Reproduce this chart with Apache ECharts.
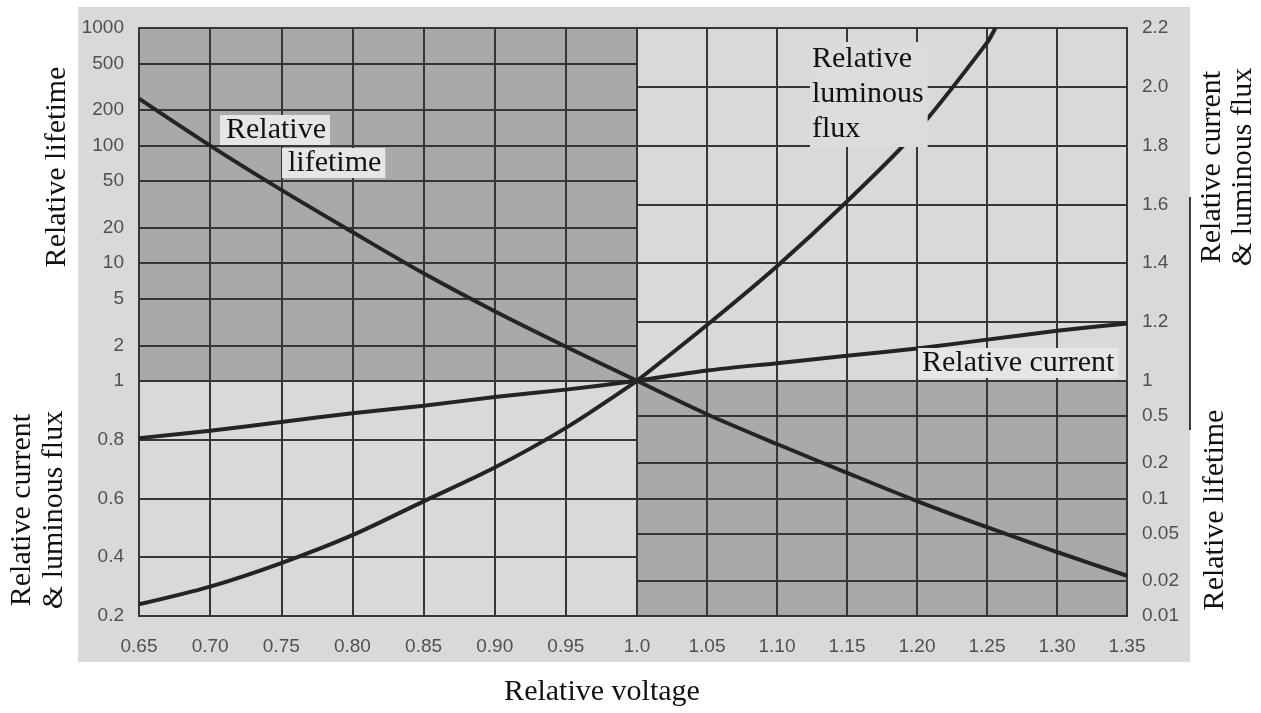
<!DOCTYPE html>
<html>
<head>
<meta charset="utf-8">
<script src="https://cdn.jsdelivr.net/npm/echarts@6/dist/echarts.min.js"></script>
<style>
  html, body { margin: 0; padding: 0; background: #fff; }
  #main { width: 1261px; height: 713px; }
</style>
</head>
<body>
<div id="main"></div>
<script>
// values
const voltage = [0.65, 0.70, 0.75, 0.80, 0.85, 0.90, 0.95, 1.00, 1.05, 1.10, 1.15, 1.20, 1.25, 1.30, 1.35];
const lifetime = [251, 100, 42, 18.4, 8.2, 3.9, 1.95, 1, 0.52, 0.29, 0.165, 0.095, 0.057, 0.035, 0.022];
const current = [0.805, 0.83, 0.86, 0.89, 0.915, 0.945, 0.97, 1, 1.035, 1.06, 1.085, 1.11, 1.14, 1.17, 1.195];
const flux = [0.24, 0.30, 0.38, 0.475, 0.59, 0.705, 0.84, 1, 1.19, 1.39, 1.61, 1.85, 2.15, null, null];
// where the flux curve leaves the top of the chart
const fluxExit = [1.256, 2.2];

// tick labels
const lifeTicksLeft = [1, 2, 5, 10, 20, 50, 100, 200, 500, 1000];
const lifeTicksRight = [0.01, 0.02, 0.05, 0.1, 0.2, 0.5];
const relTicksLeft = [0.2, 0.4, 0.6, 0.8];
const relTicksRight = [1, 1.2, 1.4, 1.6, 1.8, 2.0, 2.2];

const GRID_LINE = '#363636';
const CURVE = '#242424';
const LIGHT = '#d9d9d9';
const DARK = '#a9a9a9';
const SERIF = '"Liberation Serif", "Times New Roman", serif';
const SANS = '"Liberation Sans", Arial, sans-serif';

// split one curve into the part left of 1.0 and the part right of it
function half(values, left) {
  const out = [];
  voltage.forEach((v, i) => {
    if (values[i] == null) return;
    if (left ? v <= 1.0001 : v >= 0.9999) out.push([v, values[i]]);
  });
  return out;
}

const chart = echarts.init(document.getElementById('main'), null, { renderer: 'canvas' });

const tickLabel = { color: '#505050', fontFamily: SANS, fontSize: 19 };
const splitLine = { show: true, lineStyle: { color: GRID_LINE, width: 2 } };
const axisLine = { show: true, lineStyle: { color: GRID_LINE, width: 2 } };

const option = {
  animation: false,
  backgroundColor: '#fff',
  grid: [
    { left: 139, top: 28, width: 498, height: 588 },
    { left: 637, top: 28, width: 490, height: 588 }
  ],
  xAxis: [
    {
      type: 'value', gridIndex: 0, min: 0.65, max: 1.0, interval: 0.05,
      axisLine: axisLine, axisTick: { show: false }, splitLine: splitLine,
      axisLabel: Object.assign({}, tickLabel, {
        margin: 21,
        formatter: v => Math.abs(v - 1) < 1e-9 ? '1.0' : v.toFixed(2)
      })
    },
    {
      type: 'value', gridIndex: 1, min: 1.0, max: 1.35, interval: 0.05,
      axisLine: axisLine, axisTick: { show: false }, splitLine: splitLine,
      axisLabel: Object.assign({}, tickLabel, {
        margin: 21, showMinLabel: false,
        formatter: v => v.toFixed(2)
      })
    }
  ],
  yAxis: [
    // 0: left, current & flux (lower half labels)
    {
      type: 'value', gridIndex: 0, position: 'left', min: 0.2, max: 2.2,
      axisLine: axisLine,
      axisTick: { show: false, customValues: [0.2, 0.4, 0.6, 0.8, 1] },
      splitLine: splitLine,
      axisLabel: Object.assign({}, tickLabel, {
        margin: 15, customValues: relTicksLeft, formatter: v => v.toFixed(1)
      })
    },
    // 1: left, lifetime (upper half labels)
    {
      type: 'log', logBase: 10, gridIndex: 0, position: 'left', min: 0.01, max: 1000,
      axisLine: { show: false },
      axisTick: { show: false, customValues: lifeTicksLeft },
      splitLine: splitLine,
      axisLabel: Object.assign({}, tickLabel, {
        margin: 15, customValues: lifeTicksLeft, formatter: v => String(v)
      })
    },
    // 2: right, current & flux (upper half labels)
    {
      type: 'value', gridIndex: 1, position: 'right', min: 0.2, max: 2.2,
      axisLine: axisLine,
      axisTick: { show: false, customValues: relTicksRight },
      splitLine: splitLine,
      axisLabel: Object.assign({}, tickLabel, {
        margin: 15, customValues: relTicksRight,
        formatter: v => v === 1 ? '1' : v.toFixed(1)
      })
    },
    // 3: right, lifetime (lower half labels)
    {
      type: 'log', logBase: 10, gridIndex: 1, position: 'right', min: 0.01, max: 1000,
      axisLine: { show: false },
      axisTick: { show: false, customValues: lifeTicksRight.concat([1]) },
      splitLine: splitLine,
      axisLabel: Object.assign({}, tickLabel, {
        margin: 15, customValues: lifeTicksRight, formatter: v => String(v)
      })
    }
  ],
  graphic: [
    { type: 'rect', z: -10, shape: { x: 78, y: 7, width: 1112, height: 655 }, style: { fill: LIGHT } },
    { type: 'line', z: 10, shape: { x1: 1190, y1: 197, x2: 1190, y2: 430 }, style: { stroke: '#000', lineWidth: 1.5 } },
    { type: 'text', z: 10, x: 220, y: 115, style: { text: 'Relative', font: '30px ' + SERIF, fill: '#111', backgroundColor: '#e6e6e6', padding: [0, 4, 0, 6] } },
    { type: 'text', z: 10, x: 282, y: 148, style: { text: 'lifetime', font: '30px ' + SERIF, fill: '#111', backgroundColor: '#e6e6e6', padding: [0, 4, 0, 6] } },
    { type: 'text', z: 10, x: 810, y: 42, style: { text: 'Relative\nluminous\nflux', font: '30px ' + SERIF, lineHeight: 35, fill: '#111', backgroundColor: '#dcdcdc', padding: [0, 4, 0, 2] } },
    { type: 'text', z: 10, x: 918, y: 348, style: { text: 'Relative current', font: '30px ' + SERIF, fill: '#111', backgroundColor: '#e6e6e6', padding: [0, 4, 0, 4] } },
    { type: 'text', z: 10, x: 57, y: 167, rotation: Math.PI / 2, style: { text: 'Relative lifetime', font: '30px ' + SERIF, fill: '#111', align: 'center', verticalAlign: 'middle' } },
    { type: 'text', z: 10, x: 38, y: 510, rotation: Math.PI / 2, style: { text: 'Relative current\n& luminous flux', font: '30px ' + SERIF, lineHeight: 32, fill: '#111', align: 'center', verticalAlign: 'middle' } },
    { type: 'text', z: 10, x: 1228, y: 167, rotation: Math.PI / 2, style: { text: 'Relative current\n& luminous flux', font: '30px ' + SERIF, lineHeight: 31, fill: '#111', align: 'center', verticalAlign: 'middle' } },
    { type: 'text', z: 10, x: 1215, y: 510, rotation: Math.PI / 2, style: { text: 'Relative lifetime', font: '30px ' + SERIF, fill: '#111', align: 'center', verticalAlign: 'middle' } },
    { type: 'text', z: 10, x: 602, y: 692, style: { text: 'Relative voltage', font: '30px ' + SERIF, fill: '#111', align: 'center', verticalAlign: 'middle' } }
  ],
  series: [
    // shaded blocks, kept under the grid lines
    {
      type: 'line', xAxisIndex: 0, yAxisIndex: 1, data: [], z: -1, silent: true,
      markArea: { z: -1, silent: true, itemStyle: { color: DARK }, data: [[{ xAxis: 0.65, yAxis: 1 }, { xAxis: 1.0, yAxis: 1000 }]] }
    },
    {
      type: 'line', xAxisIndex: 1, yAxisIndex: 3, data: [], z: -1, silent: true,
      markArea: { z: -1, silent: true, itemStyle: { color: DARK }, data: [[{ xAxis: 1.0, yAxis: 0.01 }, { xAxis: 1.35, yAxis: 1 }]] }
    },
    { name: 'Relative lifetime', type: 'line', xAxisIndex: 0, yAxisIndex: 1, data: half(lifetime, true) },
    { name: 'Relative lifetime', type: 'line', xAxisIndex: 1, yAxisIndex: 3, data: half(lifetime, false) },
    { name: 'Relative current', type: 'line', xAxisIndex: 0, yAxisIndex: 0, data: half(current, true) },
    { name: 'Relative current', type: 'line', xAxisIndex: 1, yAxisIndex: 2, data: half(current, false) },
    { name: 'Relative luminous flux', type: 'line', xAxisIndex: 0, yAxisIndex: 0, data: half(flux, true) },
    { name: 'Relative luminous flux', type: 'line', xAxisIndex: 1, yAxisIndex: 2, data: half(flux, false).concat([fluxExit]) }
  ].map(s => s.data.length ? Object.assign(s, {
    smooth: 0.3, symbol: 'none', silent: true,
    lineStyle: { color: CURVE, width: 4 }
  }) : s)
};

chart.setOption(option);
</script>
</body>
</html>
